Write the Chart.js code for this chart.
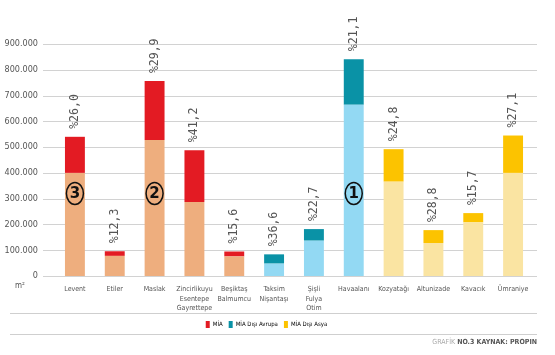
<!DOCTYPE html>
<html>
<head>
<meta charset="utf-8">
<script src="https://cdn.jsdelivr.net/npm/chart.js@4/dist/chart.umd.min.js"></script>
<style>
  html, body { margin: 0; padding: 0; background: #fff; }
  #wrap { position: relative; width: 555px; height: 355px; overflow: hidden; }
  canvas { position: absolute; left: 0; top: 0; }
  .narrow { font-family: 'Liberation Sans Narrow', 'DejaVu Sans Condensed', 'Roboto', sans-serif; }
  #unit { position: absolute; left: 15px; top: 281px; font-size: 8px; color: #555; }
  .rule { position: absolute; left: 10px; width: 527px; height: 0; border-top: 1px solid #cfcfcf; }
  #footer { position: absolute; right: 18px; top: 338px; font-size: 7px; color: #555; white-space: nowrap; }
  #footer .light { color: #aaa; }
  #footer b { font-weight: bold; }
</style>
</head>
<body>
<div id="wrap">
  <canvas id="c" width="555" height="355"></canvas>
  <div id="unit" class="narrow">m²</div>
  <div class="rule" style="top:313px"></div>
  <div class="rule" style="top:334px"></div>
  <div id="footer" class="narrow"><span class="light">GRAFİK</span> <b>NO.3 KAYNAK: PROPIN</b></div>
</div>
<script>
// ---- data (m²) ----
const categories = ["Levent", "Etiler", "Maslak", ["Zincirlikuyu", "Esentepe", "Gayrettepe"], ["Beşiktaş", "Balmumcu"], ["Taksim", "Nişantaşı"], ["Şişli", "Fulya", "Otim"], "Havaalanı", "Kozyatağı", "Altunizade", "Kavacık", "Ümraniye"];
const regions = ["mia", "mia", "mia", "mia", "mia", "avr", "avr", "avr", "asy", "asy", "asy", "asy"];
const baseValues = [400000, 78000, 528000, 287000, 76000, 48000, 137000, 664000, 366000, 128000, 208000, 400000];
const topValues = [140000, 18000, 228000, 201000, 19000, 36000, 45000, 177000, 126000, 50000, 36000, 145000];
const pctLabels = ["%26,0", "%12,3", "%29,9", "%41,2", "%15,6", "%36,6", "%22,7", "%21,1", "%24,8", "%28,8", "%15,7", "%27,1"];
const rankMarks = { 0: "3", 2: "2", 7: "1" };
const rankValue = 320000;
const yTicks = [0, 100000, 200000, 300000, 400000, 500000, 600000, 700000, 800000, 900000];
const legendNames = ["MİA", "MİA Dışı Avrupa", "MİA Dışı Asya"];

const darkColors = { mia: "#e31b23", avr: "#0a92a6", asy: "#fcc300" };
const lightColors = { mia: "#eeae7e", avr: "#93d9f3", asy: "#fae4a2" };
const NARROW = "'Liberation Sans Narrow', 'DejaVu Sans Condensed', 'Roboto', sans-serif";

const fmt = v => v === 0 ? "0" : (v / 1000).toFixed(0) + ".000";

const overlay = {
  id: "overlay",
  beforeDatasetsDraw(chart) {
    const ctx = chart.ctx, y = chart.scales.y;
    ctx.save();
    ctx.strokeStyle = "#d2d2d2";
    ctx.lineWidth = 1;
    yTicks.forEach(t => {
      const py = Math.round(y.getPixelForValue(t)) + 0.5;
      ctx.beginPath(); ctx.moveTo(43, py); ctx.lineTo(537, py); ctx.stroke();
    });
    ctx.restore();
  },
  afterDatasetsDraw(chart) {
    const ctx = chart.ctx, y = chart.scales.y;
    const metaTop = chart.getDatasetMeta(1);
    ctx.save();
    ctx.fillStyle = "#555";
    ctx.font = "11.5px 'DejaVu Sans Mono', monospace";
    ctx.textAlign = "left";
    ctx.textBaseline = "middle";
    metaTop.data.forEach((bar, i) => {
      ctx.save();
      ctx.translate(bar.x, bar.y - 8);
      ctx.rotate(-Math.PI / 2);
      ctx.fillText(pctLabels[i], 0, 0);
      ctx.restore();
    });
    Object.keys(rankMarks).forEach(k => {
      const i = +k;
      const bx = metaTop.data[i].x;
      const by = y.getPixelForValue(rankValue);
      ctx.beginPath();
      ctx.ellipse(bx, by, 8.5, 11, 0, 0, Math.PI * 2);
      ctx.lineWidth = 1.5;
      ctx.strokeStyle = "#111";
      ctx.stroke();
      ctx.fillStyle = "#111";
      ctx.font = "bold 15px 'DejaVu Sans', sans-serif";
      ctx.textAlign = "center";
      ctx.textBaseline = "middle";
      ctx.fillText(rankMarks[k], bx, by + 1);
    });
    ctx.restore();
  }
};

new Chart(document.getElementById("c"), {
  type: "bar",
  data: {
    labels: categories,
    datasets: [
      { label: "base", data: baseValues, backgroundColor: regions.map(r => lightColors[r]), borderWidth: 0 },
      { label: "top", data: topValues, backgroundColor: regions.map(r => darkColors[r]), borderWidth: 0 }
    ]
  },
  options: {
    responsive: false,
    animation: false,
    devicePixelRatio: 1,
    layout: { padding: { top: 44, left: 0, right: 22, bottom: 17 } },
    datasets: { bar: { categoryPercentage: 1, barPercentage: 0.5 } },
    scales: {
      x: {
        stacked: true,
        grid: { display: false, drawTicks: false },
        border: { display: false },
        ticks: { color: "#555", font: { family: NARROW, size: 7, lineHeight: 1.4 }, padding: 8, maxRotation: 0, autoSkip: false },
        afterFit: s => { s.height = 39; }
      },
      y: {
        stacked: true,
        min: 0, max: 900000,
        grid: { display: false, drawTicks: false },
        border: { display: false },
        ticks: { stepSize: 100000, color: "#555", font: { family: NARROW, size: 9 }, padding: 17, callback: v => fmt(v) },
        afterFit: s => { s.width = 55; }
      }
    },
    plugins: {
      tooltip: { enabled: false },
      legend: {
        position: "bottom",
        labels: {
          boxWidth: 4, boxHeight: 7, padding: 6,
          color: "#444",
          font: { family: NARROW, size: 6 },
          generateLabels: () => ["mia", "avr", "asy"].map((r, i) => ({
            text: legendNames[i], fillStyle: darkColors[r], strokeStyle: darkColors[r], lineWidth: 0, hidden: false, datasetIndex: 0
          }))
        },
        onClick: () => {}
      }
    }
  },
  plugins: [overlay]
});
</script>
</body>
</html>
